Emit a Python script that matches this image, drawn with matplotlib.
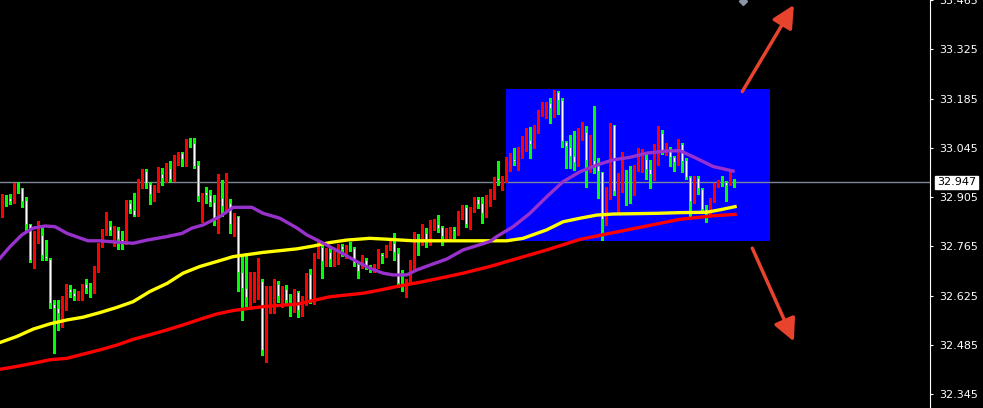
import numpy as np
import matplotlib.pyplot as plt
from matplotlib.patches import Rectangle

# candle data (one entry per bar, left to right)
opens = [
    32.860, 32.905, 32.903, 32.892, 32.938, 32.930, 32.897, 32.829, 32.727, 32.786,
    32.798, 32.738, 32.729, 32.601, 32.589, 32.573, 32.587, 32.644, 32.632, 32.618,
    32.634, 32.658, 32.650, 32.646, 32.706, 32.766, 32.809, 32.823, 32.807, 32.811,
    32.785, 32.774, 32.888, 32.869, 32.852, 32.951, 32.979, 32.942, 32.909, 32.921,
    32.971, 32.954, 32.987, 32.954, 33.018, 33.030, 33.011, 33.060, 33.058, 32.996,
    32.904, 32.919, 32.910, 32.892, 32.833, 32.902, 32.871, 32.888, 32.821, 32.850,
    32.691, 32.646, 32.618, 32.618, 32.627, 32.668, 32.466, 32.608, 32.604, 32.658,
    32.613, 32.644, 32.608, 32.594, 32.635, 32.582, 32.604, 32.686, 32.604, 32.746,
    32.764, 32.722, 32.748, 32.727, 32.733, 32.767, 32.746, 32.765, 32.760, 32.715,
    32.712, 32.727, 32.708, 32.695, 32.708, 32.744, 32.741, 32.758, 32.776, 32.746,
    32.661, 32.656, 32.665, 32.700, 32.783, 32.777, 32.802, 32.779, 32.819, 32.828,
    32.819, 32.793, 32.812, 32.815, 32.807, 32.847, 32.876, 32.826, 32.875, 32.900,
    32.888, 32.861, 32.900, 32.906, 32.959, 32.949, 32.959, 32.994, 33.013, 33.006,
    33.034, 33.046, 33.067, 33.050, 33.101, 33.145, 33.162, 33.172, 33.160, 33.205,
    33.181, 33.061, 33.048, 33.023, 32.999, 33.094, 33.091, 33.011, 33.011, 32.994,
    32.976, 32.835, 32.902, 33.110, 32.925, 32.954, 32.973, 32.970, 32.968, 32.992,
    32.987, 33.013, 32.984, 32.971, 33.011, 33.088, 33.031, 33.039, 33.018, 33.001,
    33.055, 33.011, 32.963, 32.897, 32.959, 32.928, 32.871, 32.856, 32.895, 32.940,
    32.951, 32.949, 32.942, 32.955]
highs = [
    32.914, 32.912, 32.914, 32.944, 32.947, 32.932, 32.905, 32.830, 32.809, 32.837,
    32.817, 32.783, 32.733, 32.613, 32.613, 32.625, 32.658, 32.656, 32.643, 32.637,
    32.658, 32.673, 32.662, 32.710, 32.774, 32.815, 32.862, 32.837, 32.823, 32.821,
    32.809, 32.897, 32.897, 32.916, 32.956, 32.985, 32.985, 32.949, 32.940, 32.992,
    32.989, 33.001, 33.008, 33.025, 33.032, 33.034, 33.070, 33.072, 33.072, 33.008,
    32.918, 32.933, 32.925, 32.911, 32.971, 32.954, 32.973, 32.899, 32.861, 32.852,
    32.741, 32.746, 32.693, 32.693, 32.733, 32.672, 32.653, 32.653, 32.673, 32.667,
    32.653, 32.656, 32.630, 32.644, 32.639, 32.624, 32.689, 32.701, 32.746, 32.781,
    32.769, 32.760, 32.760, 32.752, 32.772, 32.772, 32.769, 32.777, 32.764, 32.720,
    32.741, 32.733, 32.712, 32.714, 32.758, 32.746, 32.769, 32.779, 32.804, 32.760,
    32.698, 32.672, 32.727, 32.807, 32.800, 32.828, 32.817, 32.840, 32.842, 32.854,
    32.823, 32.818, 32.819, 32.821, 32.866, 32.883, 32.883, 32.878, 32.904, 32.906,
    32.904, 32.911, 32.927, 32.963, 33.008, 32.966, 33.020, 33.030, 33.044, 33.046,
    33.079, 33.101, 33.105, 33.110, 33.153, 33.175, 33.176, 33.186, 33.209, 33.207,
    33.186, 33.065, 33.082, 33.093, 33.101, 33.119, 33.107, 33.082, 33.164, 33.015,
    32.976, 32.935, 33.115, 33.110, 32.973, 33.034, 32.982, 32.994, 32.996, 33.044,
    33.041, 33.030, 33.011, 33.055, 33.107, 33.096, 33.058, 33.047, 33.022, 33.069,
    33.060, 33.017, 32.965, 32.965, 32.965, 32.932, 32.883, 32.902, 32.944, 32.954,
    32.965, 32.952, 32.982, 32.956]
lows = [
    32.849, 32.881, 32.886, 32.887, 32.918, 32.878, 32.812, 32.722, 32.704, 32.774,
    32.727, 32.727, 32.589, 32.463, 32.528, 32.537, 32.583, 32.620, 32.613, 32.613,
    32.613, 32.632, 32.622, 32.634, 32.691, 32.763, 32.798, 32.798, 32.767, 32.758,
    32.758, 32.771, 32.859, 32.850, 32.850, 32.932, 32.932, 32.886, 32.894, 32.921,
    32.940, 32.947, 32.947, 32.951, 32.996, 32.994, 32.994, 33.046, 32.987, 32.894,
    32.833, 32.888, 32.880, 32.826, 32.802, 32.850, 32.869, 32.802, 32.796, 32.639,
    32.556, 32.596, 32.596, 32.608, 32.615, 32.457, 32.438, 32.575, 32.577, 32.608,
    32.594, 32.604, 32.566, 32.580, 32.564, 32.568, 32.599, 32.604, 32.601, 32.731,
    32.676, 32.708, 32.708, 32.710, 32.714, 32.738, 32.733, 32.752, 32.710, 32.676,
    32.705, 32.701, 32.691, 32.693, 32.703, 32.717, 32.734, 32.755, 32.727, 32.651,
    32.639, 32.622, 32.661, 32.698, 32.741, 32.769, 32.763, 32.769, 32.812, 32.807,
    32.769, 32.783, 32.783, 32.788, 32.798, 32.842, 32.821, 32.815, 32.862, 32.873,
    32.831, 32.848, 32.880, 32.899, 32.940, 32.925, 32.949, 32.979, 32.996, 32.982,
    33.015, 33.036, 33.017, 33.044, 33.088, 33.136, 33.129, 33.117, 33.134, 33.141,
    33.048, 32.987, 32.987, 32.982, 32.994, 33.067, 32.935, 32.977, 32.973, 32.902,
    32.783, 32.826, 32.899, 32.911, 32.864, 32.921, 32.883, 32.888, 32.911, 32.980,
    32.977, 32.956, 32.932, 32.954, 32.996, 33.027, 33.025, 32.994, 32.979, 32.996,
    32.977, 32.957, 32.850, 32.889, 32.914, 32.864, 32.835, 32.852, 32.892, 32.935,
    32.937, 32.895, 32.940, 32.935]
closes = [
    32.908, 32.901, 32.892, 32.940, 32.933, 32.892, 32.826, 32.725, 32.790, 32.798,
    32.738, 32.729, 32.601, 32.588, 32.573, 32.587, 32.644, 32.632, 32.620, 32.634,
    32.656, 32.644, 32.648, 32.705, 32.771, 32.809, 32.823, 32.810, 32.817, 32.783,
    32.774, 32.892, 32.869, 32.852, 32.951, 32.979, 32.942, 32.911, 32.925, 32.971,
    32.957, 32.987, 32.954, 33.020, 33.028, 33.011, 33.056, 33.056, 32.990, 32.904,
    32.918, 32.909, 32.889, 32.834, 32.902, 32.876, 32.890, 32.826, 32.850, 32.689,
    32.643, 32.618, 32.627, 32.625, 32.665, 32.469, 32.606, 32.639, 32.648, 32.620,
    32.648, 32.611, 32.594, 32.634, 32.582, 32.616, 32.687, 32.608, 32.743, 32.755,
    32.722, 32.755, 32.727, 32.736, 32.769, 32.755, 32.763, 32.760, 32.715, 32.692,
    32.727, 32.706, 32.698, 32.712, 32.746, 32.736, 32.762, 32.779, 32.747, 32.658,
    32.656, 32.670, 32.725, 32.785, 32.775, 32.800, 32.779, 32.823, 32.831, 32.815,
    32.793, 32.817, 32.817, 32.807, 32.852, 32.871, 32.826, 32.876, 32.900, 32.883,
    32.856, 32.904, 32.908, 32.960, 32.952, 32.959, 32.999, 33.013, 33.006, 33.039,
    33.050, 33.072, 33.053, 33.102, 33.148, 33.175, 33.172, 33.155, 33.205, 33.179,
    33.063, 33.046, 33.020, 33.001, 33.094, 33.099, 33.009, 33.020, 32.994, 32.976,
    32.840, 32.930, 33.113, 32.921, 32.954, 32.977, 32.968, 32.965, 32.994, 33.013,
    33.015, 32.982, 32.968, 33.039, 33.063, 33.034, 33.041, 33.015, 33.003, 33.055,
    33.006, 32.960, 32.892, 32.959, 32.927, 32.869, 32.859, 32.899, 32.942, 32.952,
    32.944, 32.937, 32.959, 32.947]

# moving averages (bar index, price)
purple_idx = [-0.6, 1.9, 4.9, 7.7, 10.7, 13.2, 16.2, 18.9, 21.4, 24.4, 28.7, 32.7, 36.2,
              41.2, 44.9, 47.4, 50.2, 54.4, 57.7, 62.4, 65.2, 69.4, 73.7, 76.1, 79.4,
              81.9, 85.2, 88.6, 91.9, 95.2, 97.7, 101.1, 103.6, 106.9, 111.1, 115.2,
              118.6, 121.9, 123.6, 127.7, 131.9, 136.1, 140.2, 144.4, 148.6, 152.7,
              156.9, 161.1, 166.1, 169.4, 173.6, 177.7, 182.7]
purple_val = [32.731, 32.764, 32.798, 32.817, 32.823, 32.821, 32.802, 32.791, 32.781,
              32.781, 32.777, 32.774, 32.783, 32.793, 32.802, 32.817, 32.826, 32.850,
              32.876, 32.876, 32.859, 32.845, 32.817, 32.798, 32.779, 32.764, 32.744,
              32.722, 32.703, 32.689, 32.684, 32.684, 32.698, 32.712, 32.729, 32.755,
              32.767, 32.779, 32.793, 32.821, 32.859, 32.906, 32.949, 32.977, 32.996,
              33.011, 33.018, 33.030, 33.036, 33.037, 33.015, 32.992, 32.979]
yellow_idx = [-0.6, 3.6, 7.7, 11.9, 16.1, 20.2, 24.4, 28.7, 32.7, 36.9, 41.2, 45.2, 49.4,
              53.6, 57.7, 65.2, 73.6, 77.7, 81.9, 86.1, 91.9, 96.9, 102.7, 111.1, 121.9,
              126.1, 130.2, 136.1, 140.2, 144.4, 148.6, 152.7, 163.6, 169.4, 176.1,
              179.4, 183.2]
yellow_val = [32.492, 32.509, 32.530, 32.545, 32.556, 32.564, 32.577, 32.592, 32.608,
              32.637, 32.660, 32.689, 32.708, 32.722, 32.736, 32.748, 32.758, 32.766,
              32.776, 32.783, 32.788, 32.785, 32.781, 32.781, 32.781, 32.781, 32.788,
              32.812, 32.835, 32.845, 32.854, 32.857, 32.859, 32.861, 32.862, 32.869,
              32.878]
red_idx = [-0.6, 3.6, 7.7, 11.9, 16.1, 20.2, 24.4, 28.7, 32.7, 36.9, 41.2, 45.2, 49.4,
           53.6, 57.7, 65.2, 73.6, 81.9, 90.2, 94.4, 98.6, 105.2, 111.1, 115.2, 121.9,
           136.1, 144.4, 152.7, 161.1, 169.4, 177.7, 183.2]
red_val = [32.416, 32.424, 32.433, 32.443, 32.447, 32.459, 32.471, 32.485, 32.501,
           32.514, 32.528, 32.542, 32.558, 32.573, 32.583, 32.594, 32.601, 32.622,
           32.632, 32.641, 32.651, 32.665, 32.679, 32.689, 32.708, 32.755, 32.785,
           32.804, 32.823, 32.842, 32.852, 32.856]

# blue box zone (bars, prices), current price, arrows
zone_bars = [125.9, 191.9]
zone_prices = [32.779, 33.212]
last_price = 32.947
arrow_up = [(185.0, 33.205), (197.9, 33.451)]
arrow_down = [(187.5, 32.760), (197.9, 32.495)]
price_ticks = [33.465, 33.325, 33.185, 33.045, 32.905, 32.765, 32.625, 32.485, 32.345]

o = np.array(opens); h = np.array(highs); l = np.array(lows); c = np.array(closes)
x = np.arange(len(o))
up = c > o
dn = ~up

fig = plt.figure(figsize=(9.83, 4.08), dpi=100, facecolor='black')
ax = fig.add_axes([0, 0, 930 / 983, 1])
ax.set_facecolor('black')
ax.set_xlim(-0.575, 231.925)
ax.set_ylim(32.306, 33.465)
px = (33.465 - 32.306) / 408  # price per pixel

# blue zone
ax.add_patch(Rectangle((zone_bars[0], zone_prices[0]), zone_bars[1] - zone_bars[0],
                       zone_prices[1] - zone_prices[0], facecolor='#0000FF',
                       edgecolor='none', zorder=0.5))
ax.axhline(last_price, color='#7C8896', lw=1, zorder=1)

body_lo = np.minimum(o, c)
body_h = np.maximum(np.abs(c - o), px)

# wicks
ax.vlines(x[up], l[up], h[up], colors='#FF0000', lw=0.8, zorder=2, antialiased=False)
ax.vlines(x[dn], l[dn], h[dn], colors='#00FF00', lw=0.8, zorder=2, antialiased=False)
# bodies: red = rising, white with green edge = falling
ax.bar(x[up], body_h[up], bottom=body_lo[up], width=0.85, color='#FF0000',
       lw=0, zorder=3, antialiased=False)
ax.bar(x[dn], body_h[dn], bottom=body_lo[dn], width=0.85, color='#00FF00',
       lw=0, zorder=3, antialiased=False)
inner = np.clip(body_h - 2 * px, 0, None)
ax.bar(x[dn], inner[dn], bottom=body_lo[dn] + px, width=0.3, color='white',
       lw=0, zorder=3.5, antialiased=False)

# moving averages
ax.plot(red_idx, red_val, color='#FF0000', lw=2.4, zorder=4)
ax.plot(yellow_idx, yellow_val, color='#FFFF00', lw=2.4, zorder=4)
ax.plot(purple_idx, purple_val, color='#9932CC', lw=2.4, zorder=4)

# arrows
for tail, tip in [arrow_up, arrow_down]:
    ax.annotate('', xy=tip, xytext=tail, annotation_clip=False,
                arrowprops=dict(arrowstyle='-|>,head_length=0.9,head_width=0.45',
                                color='#E8432D', lw=2.5, mutation_scale=15,
                                shrinkA=0, shrinkB=0), zorder=5)
ax.plot([185.2], [33.463], marker='D', ms=4, color='#8A96A4', clip_on=False, zorder=5)

# axis
for s in ['top', 'left', 'bottom']:
    ax.spines[s].set_visible(False)
ax.spines['right'].set_color('white')
ax.spines['right'].set_linewidth(0.8)
ax.yaxis.tick_right()
ax.set_yticks(price_ticks)
ax.set_yticklabels([f'{t:.3f}' for t in price_ticks])
ax.tick_params(axis='y', colors='white', length=2.5, width=0.8, pad=4, labelsize=8)
ax.tick_params(axis='x', bottom=False, labelbottom=False)

ax.text(1.0 + 7 / 930, last_price, f'{last_price:.3f}', transform=ax.get_yaxis_transform(),
        va='center', ha='left', fontsize=8, color='black', zorder=6, clip_on=False,
        bbox=dict(boxstyle='square,pad=0.15', facecolor='white', edgecolor='white'))

fig.savefig('out.png', dpi=100, facecolor='black')
